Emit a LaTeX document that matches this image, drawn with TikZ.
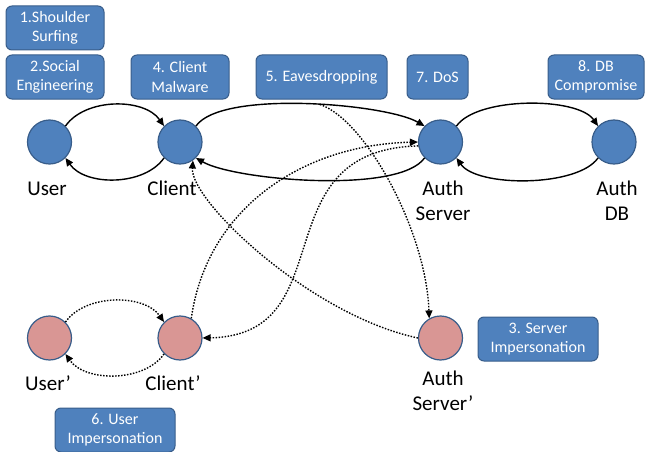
\documentclass[tikz,border=0pt]{standalone}
\usepackage{fontspec}
\setmainfont{Carlito}
\usetikzlibrary{arrows.meta}
\definecolor{nodeblue}{HTML}{4F81BD}
\definecolor{edgeblue}{HTML}{385D8A}
\definecolor{fakepink}{HTML}{D99694}
\tikzset{
  realnode/.style={circle, minimum size=44pt, inner sep=0pt, fill=nodeblue, draw=edgeblue, line width=1.2pt},
  fakenode/.style={realnode, fill=fakepink},
  lbl/.style={font=\fontsize{21}{25}\selectfont, align=center, inner sep=0pt, anchor=base},
  attack/.style={rounded corners=6pt, fill=nodeblue, draw=edgeblue, line width=1pt, text=white,
    font=\fontsize{16}{19.5}\selectfont, align=center, minimum height=44pt, inner sep=0pt},
  flow/.style={-{Triangle[length=8pt,width=7pt]}, line width=1.4pt, black},
  fakeflow/.style={flow, dash pattern=on 1.5pt off 1.5pt}
}
\begin{document}
\begin{tikzpicture}[x=1pt,y=1pt]
\useasboundingbox (0,0) rectangle (651,451);

% attack boxes
\node[attack, minimum width=98pt] (b1) at (55,423) {1.Shoulder\\Surfing};
\node[attack, minimum width=98pt] (b2) at (55,374) {2.Social\\Engineering};
\node[attack, minimum width=98pt] (b4) at (180,374) {4. Client\\Malware};
\node[attack, minimum width=131pt] (b5) at (321.5,374) {5. Eavesdropping};
\node[attack, minimum width=61pt] (b7) at (437.5,374) {7. DoS};
\node[attack, minimum width=96pt] (b8) at (596,374) {8. DB\\Compromise};
\node[attack, minimum width=120pt] (b3) at (538,112) {3. Server\\Impersonation};
\node[attack, minimum width=120pt] (b6) at (115,21) {6. User\\Impersonation};

% real nodes
\node[realnode] (user) at (49.5,309) {};
\node[realnode] (client) at (180,309) {};
\node[realnode] (as) at (440.5,309) {};
\node[realnode] (db) at (614,309) {};
% fake nodes
\node[fakenode] (userp) at (49.5,113) {};
\node[fakenode] (clientp) at (180,113) {};
\node[fakenode] (asp) at (440.5,113) {};

% labels (base = baseline of the last line)
\node[lbl] (luser) at (47,256) {User};
\node[lbl] (lclient) at (172,256) {Client};
\node[lbl] (las) at (443,231) {Auth\\Server};
\node[lbl] (ldb) at (617,231) {Auth\\DB};
\node[lbl] (luserp) at (48,61) {User’};
\node[lbl] (lclientp) at (173,61) {Client’};
\node[lbl] (lasp) at (443,41) {Auth\\Server’};

% solid flows
\draw[flow] (user.45) to[out=55,in=125,looseness=0.9] (client.135);
\draw[flow] (client.225) to[out=-125,in=-55,looseness=0.9] (user.315);
\draw[flow] (client.45) to[out=55,in=150,looseness=0.5] (as.135);
\draw[flow] (as.225) to[out=-125,in=-30,looseness=0.5] (client.315);
\draw[flow] (as.45) to[out=55,in=125,looseness=0.65] (db.135);
\draw[flow] (db.225) to[out=-125,in=-55,looseness=0.65] (as.315);

% tap point on the client-server channel
\coordinate (tap) at (320,346.5);

% dotted flows
\draw[fakeflow] (userp.45) to[out=55,in=125,looseness=0.9] (clientp.135);
\draw[fakeflow] (clientp.225) to[out=-125,in=-55,looseness=0.9] (userp.315);
\draw[fakeflow] (clientp.60) .. controls +(15,108) and +(-118,-3) .. (as.180);
\draw[fakeflow] (as.190) .. controls +(-159,-4) and +(143,3) .. (clientp.east);
\draw[fakeflow] (asp.west) .. controls +(-108,23) and +(-3,-40) .. (client.-55);
\draw[fakeflow] (tap) .. controls +(45,-15) and +(-3,88) .. (asp.120);
\end{tikzpicture}
\end{document}
